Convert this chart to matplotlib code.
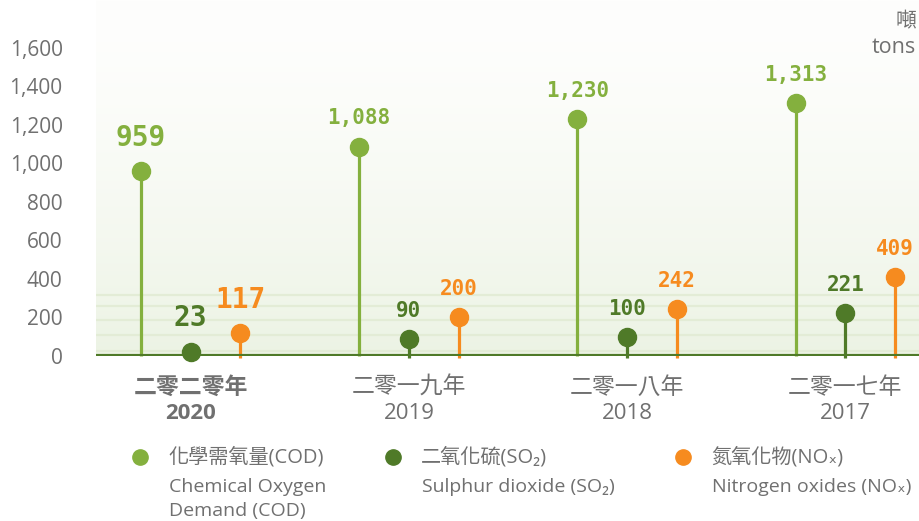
import numpy as np
import matplotlib
matplotlib.use("Agg")
import matplotlib.pyplot as plt
from matplotlib.lines import Line2D

# data
years_zh = ['二零二零年', '二零一九年', '二零一八年', '二零一七年']
years_en = ['2020', '2019', '2018', '2017']
cod = [959, 1088, 1230, 1313]
so2 = [23, 90, 100, 221]
nox = [117, 200, 242, 409]
y_ticks = [0, 200, 400, 600, 800, 1000, 1200, 1400, 1600]

c_cod = '#84b03e'
c_so2 = '#4f7a28'
c_nox = '#f68b1f'
grey = '#707070'
txt_font = ['Open Sans', 'Noto Sans CJK TC', 'DejaVu Sans']

fig = plt.figure(figsize=(9.2, 5.21), dpi=100)
ax = fig.add_axes([96 / 920, 1 - 356 / 521, 1 - 96 / 920, 356 / 521])

# soft green gradient background
grad = np.linspace(0, 1, 256).reshape(-1, 1)
top = np.array([254, 254, 253]) / 255
bot = np.array([236, 243, 228]) / 255
img = top + (bot - top) * grad[..., None] ** 1.5
ax.imshow(img, extent=[0, 1, 0, 1], transform=ax.transAxes, aspect='auto', zorder=0)
for yy in [0.015, 0.06, 0.1, 0.14, 0.17]:
    ax.axhline(yy * 1849, color='#e3ecd6', lw=1.6, zorder=1)

x = np.arange(len(years_en))
off = 0.228
series = [(cod, -off, c_cod), (so2, 0, c_so2), (nox, off, c_nox)]

for vals, dx, col in series:
    for i, v in enumerate(vals):
        xi = x[i] + dx
        ax.plot([xi, xi], [-12 if col != c_cod else 0, v], color=col, lw=2.3, zorder=3,
                solid_capstyle='butt', clip_on=False)
        ax.plot(xi, v, 'o', ms=13, color=col, zorder=4, clip_on=False)
        big = (i == 0)
        ax.annotate(f'{v:,}', (xi, v), xytext=(0, 14 if big else 13), textcoords='offset points',
                    ha='center', va='bottom', color=col, fontsize=20 if big else 15,
                    fontweight='bold', family='DejaVu Sans Mono')

ax.axhline(0, color=c_so2, lw=3, zorder=5)

ax.set_xlim(-0.434, 3.342)
ax.set_ylim(0, 1849)
ax.set_yticks(y_ticks)
ax.set_yticklabels([f'{t:,}' for t in y_ticks], family=txt_font, fontsize=15, color=grey)
ax.tick_params(axis='y', length=0, pad=24)
ax.set_xticks([])
for s in ax.spines.values():
    s.set_visible(False)

for i in range(len(years_en)):
    w = 'bold' if i == 0 else 'normal'
    ax.annotate(years_zh[i], (x[i], 0), xycoords=('data', 'axes fraction'),
                xytext=(0, -23), textcoords='offset points', ha='center', va='center',
                fontsize=16.5, color=grey, family=txt_font, fontweight=w)
    ax.annotate(years_en[i], (x[i], 0), xycoords=('data', 'axes fraction'),
                xytext=(0, -41.5), textcoords='offset points', ha='center', va='center',
                fontsize=16, color=grey, family=txt_font, fontweight=w)

# unit label
fig.text(916 / 920, 1 - 22 / 521, '噸', ha='right', va='center', fontsize=15,
         color=grey, family=txt_font)
fig.text(916 / 920, 1 - 47 / 521, 'tons', ha='right', va='center', fontsize=15.5,
         color=grey, family=txt_font)

# legend
legend_items = [
    (140, c_cod, '化學需氧量(COD)', 'Chemical Oxygen\nDemand (COD)'),
    (393, c_so2, '二氧化硫(SO₂)', 'Sulphur dioxide (SO₂)'),
    (683, c_nox, '氮氧化物(NOₓ)', 'Nitrogen oxides (NOₓ)'),
]
for px, col, zh, en in legend_items:
    fig.add_artist(Line2D([px / 920], [1 - 457 / 521], marker='o', ms=11, color=col,
                          transform=fig.transFigure))
    fig.text((px + 28) / 920, 1 - 457 / 521, zh, ha='left', va='center', fontsize=14.5,
             color=grey, family=txt_font)
    fig.text((px + 29) / 920, 1 - 478 / 521, en, ha='left', va='top', fontsize=14,
             color=grey, family=txt_font, linespacing=1.4)

fig.savefig('out.png', dpi=100)
